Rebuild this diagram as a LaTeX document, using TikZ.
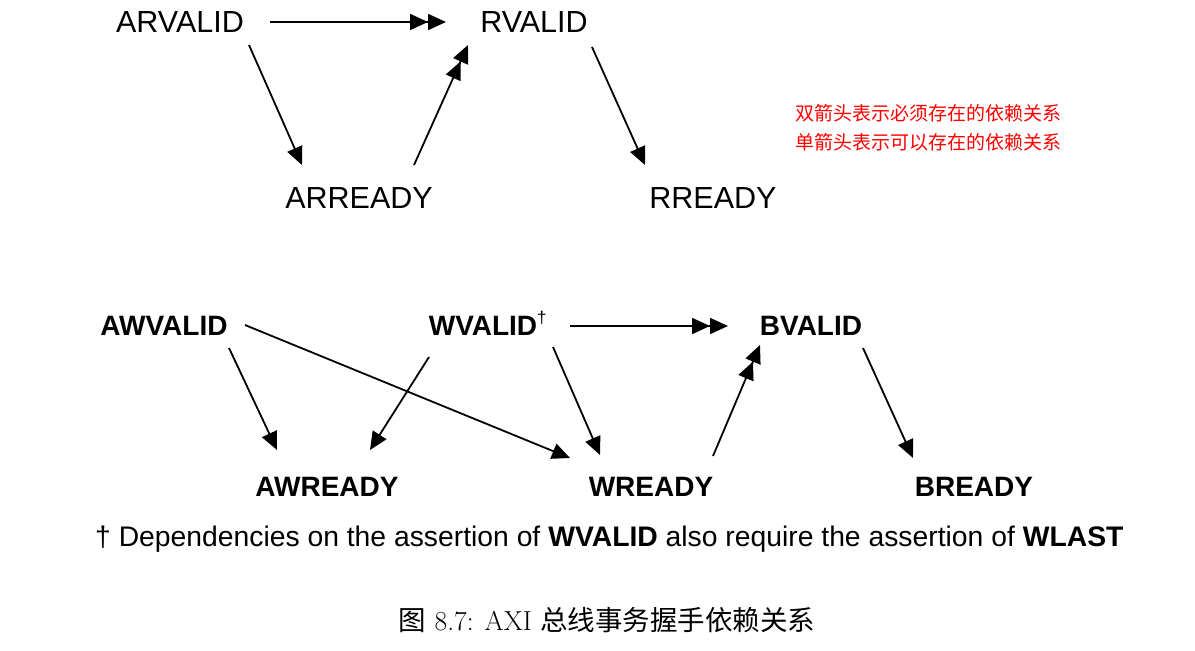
\documentclass[tikz,border=0pt]{standalone}
\usepackage{fontspec}
\newfontfamily\arial{Liberation Sans}
\newfontfamily\cjk{Noto Sans CJK SC}
\usetikzlibrary{arrows.meta,calc}
\begin{document}
\begin{tikzpicture}[x=1pt,y=-1pt,
  lbl/.style={inner sep=0pt,anchor=center,font=\arial\fontsize{30.5}{30.5}\selectfont},
  blbl/.style={inner sep=0pt,anchor=center,font=\arial\bfseries\fontsize{28}{28}\selectfont},
  tip/.tip={Triangle[length=18pt,width=16pt]},
  sgl/.style={line width=1.8pt,-tip},
  dbl/.style={line width=1.8pt,-{tip[]tip[]}}]
\useasboundingbox (0,0) rectangle (1195,651);
% top
\node[lbl] (arv) at (180,22) {ARVALID};
\node[lbl] (rv) at (534,22) {RVALID};
\node[lbl] (arr) at (359,198) {ARREADY};
\node[lbl] (rr) at (713,198) {RREADY};
\draw[dbl] ($(arv)+(90,0)$) -- ($(rv)+(-88,0)$);
\draw[sgl] ($(arv)+(69,23)$) -- ($(arr)+(-57,-33)$);
\draw[dbl] ($(arr)+(55,-33)$) -- ($(rv)+(-66,23)$);
\draw[sgl] ($(rv)+(58,25)$) -- ($(rr)+(-68,-33)$);
% red note
\node[inner sep=0pt,anchor=west,text=red,font=\cjk\fontsize{19}{29}\selectfont,align=left] (note) at (795,128) {双箭头表示必须存在的依赖关系\\单箭头表示可以存在的依赖关系};
% bottom
\node[blbl] (awv) at (164,326) {AWVALID};
\node[blbl] (wv) at (483,326) {WVALID\rlap{\smash{\raisebox{0.45em}{\normalfont\fontsize{17}{17}\selectfont\arial\dag}}}};
\node[blbl] (bv) at (811,326) {BVALID};
\node[blbl] (awr) at (327,487) {AWREADY};
\node[blbl] (wr) at (651,487) {WREADY};
\node[blbl] (br) at (974,487) {BREADY};
\draw[dbl] ($(wv)+(87,0)$) -- ($(bv)+(-83,0)$);
\draw[sgl] ($(awv)+(65,22)$) -- ($(awr)+(-50,-37)$);
\draw[sgl] ($(awv)+(81,-1)$) -- ($(wr)+(-81,-29)$);
\draw[sgl] ($(wv)+(-54,31)$) -- ($(awr)+(43,-37)$);
\draw[sgl] ($(wv)+(70,21)$) -- ($(wr)+(-51,-32)$);
\draw[dbl] ($(wr)+(62,-31)$) -- ($(bv)+(-51,19)$);
\draw[sgl] ($(bv)+(52,22)$) -- ($(br)+(-61,-29)$);
% footnote
\node[inner sep=0pt,anchor=west,font=\arial\fontsize{28.3}{28.3}\selectfont] (fn) at (95,539) {\dag\ Dependencies on the assertion of \textbf{WVALID} also require the assertion of \textbf{WLAST}};
% caption
\node[inner sep=0pt,anchor=center,font=\fontsize{27.5}{27.5}\selectfont] (cap) at (607,620) {{\cjk 图} 8.7: AXI {\cjk 总线事务握手依赖关系}};
\end{tikzpicture}
\end{document}
